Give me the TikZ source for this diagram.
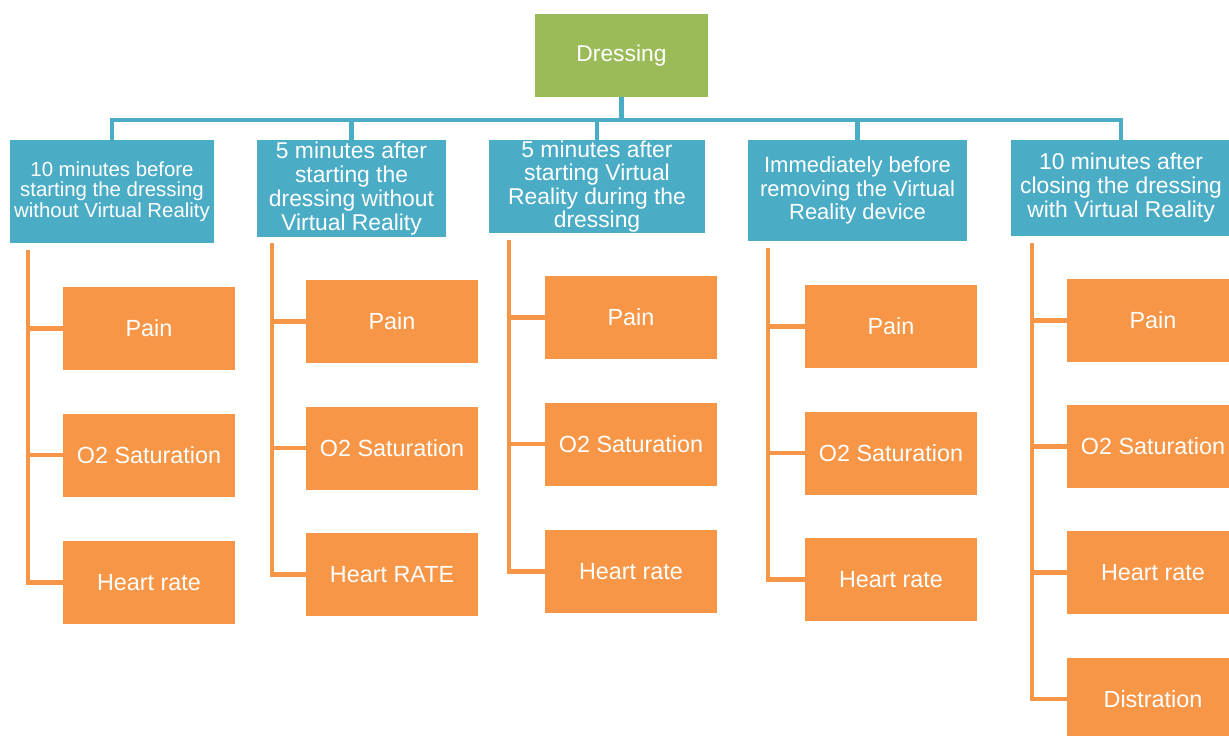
\documentclass[tikz,border=0pt]{standalone}
\usepackage{fontspec}
\setmainfont{Liberation Sans}
\definecolor{dressgreen}{HTML}{9BBB59}
\definecolor{phaseblue}{HTML}{4BACC6}
\definecolor{measureorange}{HTML}{F79646}

\begin{document}
\begin{tikzpicture}[
    x=0.02cm, y=-0.02cm,
    root/.style={rectangle, fill=dressgreen, text=white, minimum width=3.46cm, minimum height=1.66cm, text centered, font=\fontsize{13}{15}\selectfont},
    phase/.style={rectangle, fill=phaseblue, text=white, align=center, inner xsep=2pt, inner ysep=0pt, font=\fontsize{13}{13.66}\selectfont},
    measure/.style={rectangle, fill=measureorange, text=white, minimum width=3.44cm, minimum height=1.66cm, text centered, font=\fontsize{13.3}{15}\selectfont},
    bus/.style={draw=phaseblue, line width=2.3pt},
    spine/.style={draw=measureorange, line width=2.3pt}
]
\clip (0,0) rectangle (1229,735);

% Root
\node[root] (dressing) at (621.5, 55.5) {Dressing};

% Phases
\node[phase, minimum width=4.08cm, minimum height=2.06cm, font=\fontsize{11.6}{11.7}\selectfont] (before) at (112, 191.5) {10 minutes before\\starting the dressing\\without Virtual Reality};
\node[phase, minimum width=3.78cm, minimum height=1.94cm] (start) at (351.5, 188.5) {5 minutes after\\starting the\\dressing without\\Virtual Reality};
\node[phase, minimum width=4.32cm, minimum height=1.86cm, font=\fontsize{13}{13.3}\selectfont] (vr) at (597, 186.5) {5 minutes after\\starting Virtual\\Reality during the\\dressing};
\node[phase, minimum width=4.38cm, minimum height=2.02cm, font=\fontsize{12.5}{13.4}\selectfont] (remove) at (857.5, 190.5) {Immediately before\\removing the Virtual\\Reality device};
\node[phase, minimum width=4.4cm, minimum height=1.92cm] (after) at (1121, 188) {10 minutes after\\closing the dressing\\with Virtual Reality};

% Tree lines
\coordinate (busline) at (0, 120);
\draw[bus] (dressing.south) -- (dressing.south |- busline);
\draw[bus] (before.north) -- (before.north |- busline) -- (after.north |- busline) -- (after.north);
\draw[bus] (start.north) -- (start.north |- busline);
\draw[bus] (vr.north) -- (vr.north |- busline);
\draw[bus] (remove.north) -- (remove.north |- busline);

% Before column
\node[measure] (before_pain) at (149, 328.5) {Pain};
\node[measure] (before_sat) at (149, 455) {O2 Saturation};
\node[measure] (before_rate) at (149, 582.5) {Heart rate};
\coordinate (before_spine) at (28, 250);
\draw[spine] (before_spine) |- (before_rate.west);
\draw[spine] (before_spine |- before_pain.west) -- (before_pain.west);
\draw[spine] (before_spine |- before_sat.west) -- (before_sat.west);

% Start column
\node[measure] (start_pain) at (392, 321.5) {Pain};
\node[measure] (start_sat) at (392, 448) {O2 Saturation};
\node[measure] (start_rate) at (392, 574.5) {Heart RATE};
\coordinate (start_spine) at (272, 243);
\draw[spine] (start_spine) |- (start_rate.west);
\draw[spine] (start_spine |- start_pain.west) -- (start_pain.west);
\draw[spine] (start_spine |- start_sat.west) -- (start_sat.west);

% VR column
\node[measure] (vr_pain) at (631, 317.5) {Pain};
\node[measure] (vr_sat) at (631, 444) {O2 Saturation};
\node[measure] (vr_rate) at (631, 571.5) {Heart rate};
\coordinate (vr_spine) at (509, 240);
\draw[spine] (vr_spine) |- (vr_rate.west);
\draw[spine] (vr_spine |- vr_pain.west) -- (vr_pain.west);
\draw[spine] (vr_spine |- vr_sat.west) -- (vr_sat.west);

% Remove column
\node[measure] (remove_pain) at (891, 326.5) {Pain};
\node[measure] (remove_sat) at (891, 453) {O2 Saturation};
\node[measure] (remove_rate) at (891, 579.5) {Heart rate};
\coordinate (remove_spine) at (768, 248);
\draw[spine] (remove_spine) |- (remove_rate.west);
\draw[spine] (remove_spine |- remove_pain.west) -- (remove_pain.west);
\draw[spine] (remove_spine |- remove_sat.west) -- (remove_sat.west);

% After column
\node[measure] (after_pain) at (1153, 320.5) {Pain};
\node[measure] (after_sat) at (1153, 446.5) {O2 Saturation};
\node[measure] (after_rate) at (1153, 572.5) {Heart rate};
\node[measure] (after_dist) at (1153, 699) {Distration};
\coordinate (after_spine) at (1032, 243);
\draw[spine] (after_spine) |- (after_dist.west);
\draw[spine] (after_spine |- after_pain.west) -- (after_pain.west);
\draw[spine] (after_spine |- after_sat.west) -- (after_sat.west);
\draw[spine] (after_spine |- after_rate.west) -- (after_rate.west);

\end{tikzpicture}
\end{document}
